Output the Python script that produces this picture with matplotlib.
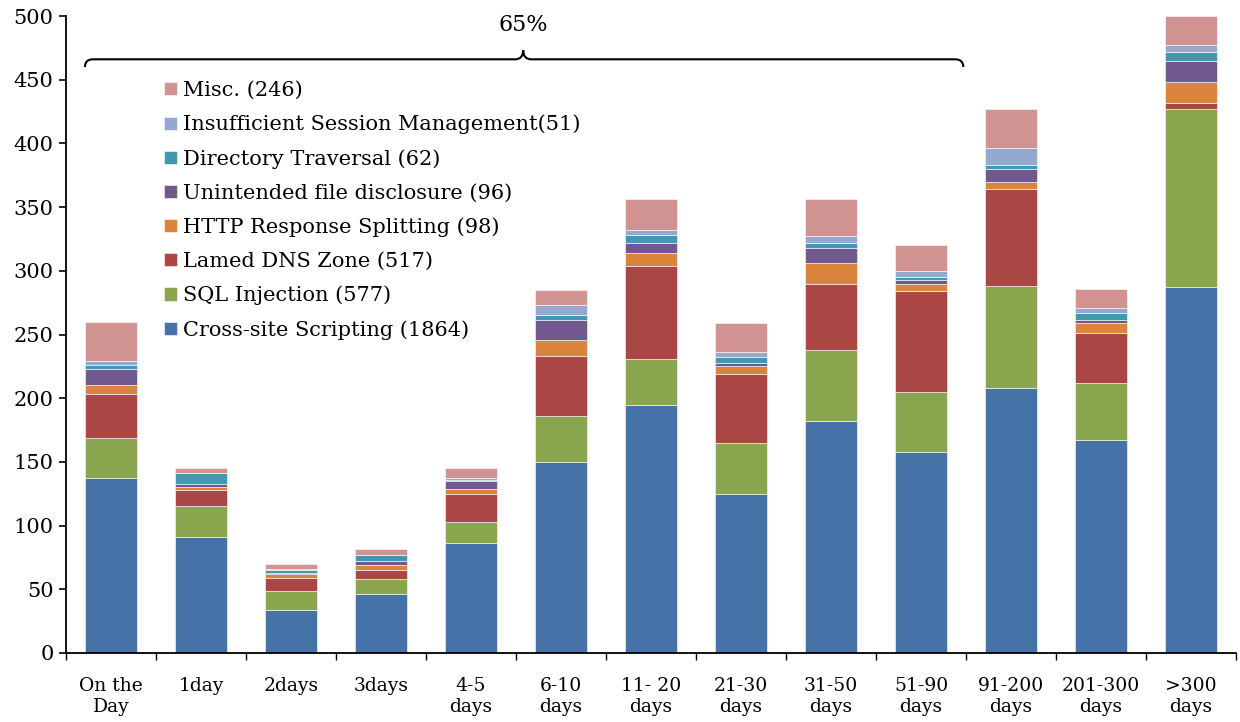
import matplotlib
matplotlib.use("Agg")
import matplotlib.pyplot as plt
import numpy as np
from matplotlib.path import Path
from matplotlib.patches import PathPatch

plt.rcParams['font.family'] = ['DejaVu Serif']

categories = ["On the\nDay", "1day", "2days", "3days", "4-5\ndays", "6-10\ndays",
              "11- 20\ndays", "21-30\ndays", "31-50\ndays", "51-90\ndays",
              "91-200\ndays", "201-300\ndays", ">300\ndays"]

xss = [137, 91, 34, 46, 86, 150, 195, 125, 182, 158, 208, 167, 287]
sqli = [32, 24, 15, 12, 17, 36, 36, 40, 56, 47, 80, 45, 140]
lamed_dns = [34, 13, 10, 7, 22, 47, 73, 54, 52, 79, 76, 39, 5]
http_split = [7, 2, 3, 4, 4, 13, 10, 6, 16, 6, 6, 8, 16]
file_disc = [13, 3, 1, 3, 6, 15, 8, 3, 12, 3, 10, 2, 17]
dir_trav = [3, 8, 2, 5, 1, 4, 6, 4, 4, 2, 3, 6, 7]
sess_mgmt = [3, 0, 1, 0, 1, 8, 4, 4, 5, 5, 13, 4, 5]
misc = [31, 4, 4, 5, 8, 12, 24, 23, 29, 20, 31, 15, 23]

series_labels = ["Cross-site Scripting (1864)", "SQL Injection (577)",
                 "Lamed DNS Zone (517)", "HTTP Response Splitting (98)",
                 "Unintended file disclosure (96)", "Directory Traversal (62)",
                 "Insufficient Session Management(51)", "Misc. (246)"]
series = [xss, sqli, lamed_dns, http_split, file_disc, dir_trav, sess_mgmt, misc]
colors = ["#4572A7", "#89A54E", "#AA4643", "#DB843D", "#71588F", "#4198AF",
          "#93A9CF", "#D19392"]

yticks = list(range(0, 501, 50))
bracket_label = "65%"

fig = plt.figure(figsize=(12.4, 7.22), dpi=100)
ax = fig.add_axes([66/1240, 69/722, 1170/1240, 637/722])

x = np.arange(len(categories))
bottom = np.zeros(len(categories))
handles = []
for vals, lab, col in zip(series, series_labels, colors):
    vals = np.array(vals, dtype=float)
    b = ax.bar(x, vals, width=0.58, bottom=bottom, color=col, label=lab,
               edgecolor="white", linewidth=0.4)
    handles.append(b)
    bottom += vals

ax.set_xlim(-0.5, len(categories) - 0.5)
ax.set_ylim(0, 500)
ax.set_yticks(yticks)
ax.tick_params(axis='y', direction='out', length=5, width=1.2, labelsize=15, pad=4)

ax.set_xticks(np.arange(-0.5, len(categories), 1.0))
ax.set_xticklabels([])
ax.set_xticks(x, minor=True)
ax.set_xticklabels(categories, minor=True, fontsize=13.5, linespacing=1.22)
ax.tick_params(axis='x', which='major', direction='out', length=5, width=1.0)
ax.tick_params(axis='x', which='minor', length=0, pad=17)

for s in ['top', 'right']:
    ax.spines[s].set_visible(False)
for s in ['left', 'bottom']:
    ax.spines[s].set_linewidth(1.3)

# brace
xl, xm, xr = -0.29, 4.58, 9.47
yh, yend, ytip = 466.0, 460.0, 473.3
dx = 0.09
verts = [
    (xl, yend), (xl, yh), (xl + dx, yh),
    (xm - dx, yh), (xm, yh), (xm, ytip),
    (xm, yh), (xm + dx, yh),
    (xr - dx, yh), (xr, yh), (xr, yend),
]
codes = [Path.MOVETO, Path.CURVE3, Path.CURVE3,
         Path.LINETO, Path.CURVE3, Path.CURVE3,
         Path.CURVE3, Path.CURVE3,
         Path.LINETO, Path.CURVE3, Path.CURVE3]
ax.add_patch(PathPatch(Path(verts, codes), fill=False, lw=1.5, color="black",
                       clip_on=False))
ax.text(xm, 493, bracket_label, ha="center", va="center", fontsize=16)

leg = ax.legend(handles[::-1], series_labels[::-1], loc="upper left",
                bbox_to_anchor=(164/1240, 1 - 81/722), bbox_transform=fig.transFigure,
                frameon=False, fontsize=15, handlelength=0.6, handleheight=0.6,
                handletextpad=0.3, labelspacing=0.71, borderpad=0, borderaxespad=0)

fig.savefig("out.png", dpi=100)
